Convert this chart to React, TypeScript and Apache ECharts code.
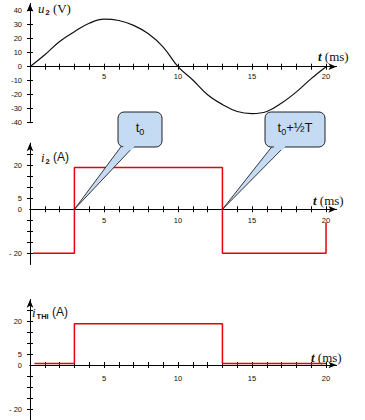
import React, { useEffect, useRef } from "react";
import * as echarts from "echarts";

// ---- data ----
const timeTicks = [1, 2, 3, 4, 5, 6, 7, 8, 9, 10, 11, 12, 13, 14, 15, 16, 17, 18, 19, 20];
const timeLabels = [5, 10, 15, 20];

const u2Time = [0, 1, 2, 3, 4, 5, 6, 7, 8, 9, 10, 11, 12, 13, 14, 15, 16, 17, 18, 19, 20];
const u2Values = [0, 8.5, 18, 25, 31, 34, 33, 29.5, 23.5, 14, 0, -9.5, -20, -27, -32, -33.5, -32, -26, -18, -8.5, 0];
const u2Ticks = [-40, -30, -20, -10, 0, 10, 20, 30, 40];

const i2Time = [0.2, 3, 3, 13, 13, 20, 20];
const i2Values = [-20, -20, 19, 19, -20, -20, -6];

const iThiTime = [0.3, 3, 3, 13, 13, 20];
const iThiValues = [0.8, 0.8, 19, 19, 0.8, 0.8];

const currentTicks = [-20, -15, -10, -5, 5, 10, 15, 20, 25];
const currentLabels = [-20, 0, 5, 20];

const calloutTimes = [3, 13];
const calloutTexts = ["{t|t}{s|0}", "{t|t}{s|0}{t|+½T}"];

const RED = "#e3000f";
const SANS = "Liberation Sans, Arial, sans-serif";
const SERIF = "Liberation Serif, Times New Roman, serif";

const grids = [
  { left: 30, top: 3.7, width: 306.4, height: 119, min: -40, max: 45 },
  { left: 30, top: 143.3, width: 306.4, height: 121, min: -25, max: 30 },
  { left: 30, top: 299.7, width: 306.4, height: 121, min: -25, max: 30 },
];

function xAxes(gridIndex: number, labelMargin: number) {
  const g = grids[gridIndex];
  // move the time axis from the grid bottom up to the value 0 of the y axis
  const offset = -(g.height * (0 - g.min)) / (g.max - g.min);
  const base = {
    type: "value",
    gridIndex,
    min: 0,
    max: 20.7,
    position: "bottom",
    offset,
    splitLine: { show: false },
  };
  return [
    {
      ...base,
      axisLine: {
        show: true,
        onZero: false,
        symbol: ["none", "arrow"],
        symbolSize: [5, 8],
        lineStyle: { color: "#000", width: 1 },
      },
      axisTick: { show: true, inside: false, length: 3, customValues: timeTicks, lineStyle: { color: "#000" } },
      axisLabel: {
        show: true,
        customValues: timeLabels,
        margin: labelMargin,
        fontSize: 7.5,
        fontFamily: SANS,
        color: "#111",
      },
    },
    {
      ...base,
      axisLine: { show: true, onZero: false, lineStyle: { color: "#000", width: 1 } },
      axisTick: { show: true, inside: true, length: 3, customValues: timeTicks, lineStyle: { color: "#000" } },
      axisLabel: { show: false },
    },
  ];
}

function yAxes(gridIndex: number, ticks: number[], labels: number[], spaced: boolean) {
  const g = grids[gridIndex];
  const base = {
    type: "value",
    gridIndex,
    min: g.min,
    max: g.max,
    position: "left",
    splitLine: { show: false },
  };
  return [
    {
      ...base,
      axisLine: {
        show: true,
        onZero: false,
        symbol: ["none", "arrow"],
        symbolSize: [5, 8],
        lineStyle: { color: "#000", width: 1 },
      },
      axisTick: { show: true, inside: false, length: 3, customValues: ticks, lineStyle: { color: "#000" } },
      axisLabel: {
        show: true,
        customValues: labels,
        margin: 8,
        fontSize: 7.5,
        fontFamily: SANS,
        color: "#111",
        formatter: (v: number) => (v < 0 && spaced ? "- " + Math.abs(v) : String(v)),
      },
    },
    {
      ...base,
      axisLine: { show: true, onZero: false, lineStyle: { color: "#000", width: 1 } },
      axisTick: { show: true, inside: true, length: 3, customValues: ticks, lineStyle: { color: "#000" } },
      axisLabel: { show: false },
    },
  ];
}

function pairs(xs: number[], ys: number[]) {
  return xs.map((x, i) => [x, ys[i]]);
}

export default function App() {
  const ref = useRef<HTMLDivElement>(null);

  useEffect(() => {
    if (!ref.current) return;
    const chart = echarts.init(ref.current, undefined, { renderer: "svg" });

    const option: any = {
      animation: false,
      backgroundColor: "#fff",
      grid: grids.map((g) => ({ left: g.left, top: g.top, width: g.width, height: g.height })),
      xAxis: [...xAxes(0, 6), ...xAxes(1, 7), ...xAxes(2, 9)],
      yAxis: [
        ...yAxes(0, u2Ticks, u2Ticks, false),
        ...yAxes(1, currentTicks, currentLabels, true),
        ...yAxes(2, currentTicks, currentLabels, true),
      ],
      series: [
        {
          type: "line",
          xAxisIndex: 0,
          yAxisIndex: 0,
          data: pairs(u2Time, u2Values),
          smooth: 0.4,
          showSymbol: false,
          silent: true,
          lineStyle: { color: "#111", width: 1.2 },
        },
        {
          type: "line",
          xAxisIndex: 2,
          yAxisIndex: 2,
          data: pairs(i2Time, i2Values),
          showSymbol: false,
          silent: true,
          lineStyle: { color: RED, width: 1.5 },
        },
        {
          type: "line",
          xAxisIndex: 4,
          yAxisIndex: 4,
          data: pairs(iThiTime, iThiValues),
          showSymbol: false,
          silent: true,
          lineStyle: { color: RED, width: 1.5 },
        },
      ],
    };
    chart.setOption(option);

    // callouts pointing at the switching instants on the i2 axis
    const boxes = [
      { x: 118, y: 112, w: 44, h: 35, a1: 123, a2: 136 },
      { x: 265, y: 112, w: 60, h: 35, a1: 274, a2: 287 },
    ];
    const fill = "#c5daf3";
    const graphics: any[] = [];
    boxes.forEach((b, i) => {
      const tip = chart.convertToPixel({ gridIndex: 1 } as any, [calloutTimes[i], 0]) as number[];
      const bottom = b.y + b.h;
      const along = (ax: number, dy: number) => ax + ((tip[0] - ax) * dy) / (tip[1] - bottom);
      graphics.push({
        type: "polygon",
        z: 100,
        shape: { points: [[b.a1, bottom - 3], [b.a2, bottom - 3], [tip[0], tip[1]]] },
        style: { fill, stroke: "#222", lineWidth: 0.9 },
      });
      graphics.push({
        type: "rect",
        z: 101,
        shape: { x: b.x, y: b.y, width: b.w, height: b.h, r: 6 },
        style: { fill, stroke: "#222", lineWidth: 1 },
      });
      graphics.push({
        type: "polygon",
        z: 102,
        shape: {
          points: [
            [b.a1 + 1, bottom - 2],
            [b.a2 - 1, bottom - 2],
            [along(b.a2, 3) - 1, bottom + 3],
            [along(b.a1, 3) + 1, bottom + 3],
          ],
        },
        style: { fill, stroke: "none" },
      });
      graphics.push({
        type: "text",
        z: 103,
        x: b.x + b.w / 2,
        y: b.y + b.h / 2 - 1,
        style: {
          text: calloutTexts[i],
          align: "center",
          verticalAlign: "middle",
          fill: "#111",
          rich: {
            t: { fontSize: 13, fontFamily: SANS, fill: "#111", lineHeight: 16, verticalAlign: "top" },
            s: { fontSize: 9, fontFamily: SANS, fill: "#111", lineHeight: 9, verticalAlign: "bottom", padding: [7, 0, 0, 0] },
          },
        },
      });
    });

    // axis titles
    const titles = [
      { x: 38, y: 9, text: "{i|u}{s|2}{n| (V)}", sans: false },
      { x: 41, y: 158, text: "{i|i}{s|2}{n| (A)}", sans: true },
      { x: 32, y: 313, text: "{i|i}{s|THI}{n| (A)}", sans: true },
    ];
    titles.forEach((t) => {
      graphics.push({
        type: "text",
        x: t.x,
        y: t.y,
        style: {
          text: t.text,
          align: "left",
          verticalAlign: "middle",
          fill: "#111",
          rich: {
            i: { fontSize: 13, fontFamily: SERIF, fontStyle: "italic", fill: "#111", lineHeight: 14, verticalAlign: "top" },
            s: { fontSize: 7.5, fontFamily: SANS, fontWeight: "bold", fill: "#111", lineHeight: 8, verticalAlign: "bottom", padding: [6, 0, 0, 1] },
            n: { fontSize: t.sans ? 12 : 13, fontFamily: t.sans ? SANS : SERIF, fill: "#111", lineHeight: 14, verticalAlign: "top" },
          },
        },
      });
    });
    const tNames = [
      { x: 318, y: 56 },
      { x: 313, y: 200 },
      { x: 311, y: 357 },
    ];
    tNames.forEach((p) => {
      graphics.push({
        type: "text",
        x: p.x,
        y: p.y,
        style: {
          text: "{i|t}{n| (ms)}",
          align: "left",
          verticalAlign: "middle",
          rich: {
            i: { fontSize: 13, fontFamily: SERIF, fontStyle: "italic", fontWeight: "bold", fill: "#111" },
            n: { fontSize: 13, fontFamily: SERIF, fill: "#111" },
          },
        },
      });
    });

    chart.setOption({ graphic: graphics });

    return () => chart.dispose();
  }, []);

  return (
    <div
      ref={ref}
      style={{ position: "absolute", left: 0, top: 0, width: 365, height: 420, background: "#fff" }}
    />
  );
}
